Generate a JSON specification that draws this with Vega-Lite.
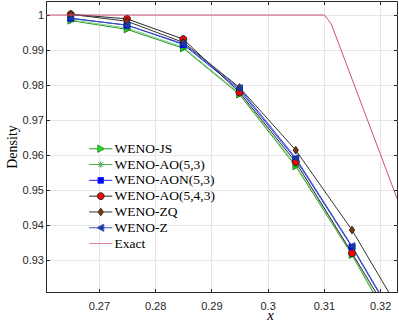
{
  "$schema": "https://vega.github.io/schema/vega-lite/v6.json",
  "width": 351,
  "height": 291,
  "autosize": {"type": "none"},
  "padding": {"left": 46, "top": 1, "right": 2, "bottom": 32},
  "background": "white",
  "config": {
    "view": {"stroke": "#262626", "strokeWidth": 1},
    "axis": {
      "labelFont": "Liberation Sans",
      "labelFontSize": 11,
      "labelColor": "#262626",
      "domainColor": "#262626",
      "tickColor": "#262626",
      "gridColor": "#e6e6e6",
      "gridWidth": 1,
      "tickSize": -3.5,
      "titleFont": "Liberation Serif",
      "titleFontWeight": "normal",
      "titleColor": "#000000"
    },
    "legend": {
      "labelFont": "Liberation Serif",
      "labelFontSize": 13.5,
      "labelColor": "#000000",
      "symbolStrokeWidth": 1,
      "symbolSize": 64,
      "padding": 0,
      "rowPadding": 0.8,
      "labelOffset": 7
    }
  },
  "data": {
    "values": [
      {"series": "WENO-JS", "x": 0.265, "rho": 0.9984},
      {"series": "WENO-JS", "x": 0.275, "rho": 0.9959},
      {"series": "WENO-JS", "x": 0.285, "rho": 0.9905},
      {"series": "WENO-JS", "x": 0.295, "rho": 0.9773},
      {"series": "WENO-JS", "x": 0.305, "rho": 0.9568},
      {"series": "WENO-JS", "x": 0.315, "rho": 0.9315},
      {"series": "WENO-JS", "x": 0.325, "rho": 0.9029},
      {"series": "WENO-AO(5,3)", "x": 0.265, "rho": 0.9986},
      {"series": "WENO-AO(5,3)", "x": 0.275, "rho": 0.9963},
      {"series": "WENO-AO(5,3)", "x": 0.285, "rho": 0.9908},
      {"series": "WENO-AO(5,3)", "x": 0.295, "rho": 0.9776},
      {"series": "WENO-AO(5,3)", "x": 0.305, "rho": 0.9572},
      {"series": "WENO-AO(5,3)", "x": 0.315, "rho": 0.9318},
      {"series": "WENO-AO(5,3)", "x": 0.325, "rho": 0.9035},
      {"series": "WENO-AON(5,3)", "x": 0.265, "rho": 0.9991},
      {"series": "WENO-AON(5,3)", "x": 0.275, "rho": 0.9971},
      {"series": "WENO-AON(5,3)", "x": 0.285, "rho": 0.9916},
      {"series": "WENO-AON(5,3)", "x": 0.295, "rho": 0.9786},
      {"series": "WENO-AON(5,3)", "x": 0.305, "rho": 0.9588},
      {"series": "WENO-AON(5,3)", "x": 0.315, "rho": 0.9337},
      {"series": "WENO-AON(5,3)", "x": 0.325, "rho": 0.9065},
      {"series": "WENO-AO(5,4,3)", "x": 0.265, "rho": 1.0002},
      {"series": "WENO-AO(5,4,3)", "x": 0.275, "rho": 0.9989},
      {"series": "WENO-AO(5,4,3)", "x": 0.285, "rho": 0.9931},
      {"series": "WENO-AO(5,4,3)", "x": 0.295, "rho": 0.9779},
      {"series": "WENO-AO(5,4,3)", "x": 0.305, "rho": 0.958},
      {"series": "WENO-AO(5,4,3)", "x": 0.315, "rho": 0.932},
      {"series": "WENO-AO(5,4,3)", "x": 0.325, "rho": 0.9056},
      {"series": "WENO-ZQ", "x": 0.265, "rho": 1.0002},
      {"series": "WENO-ZQ", "x": 0.275, "rho": 0.9982},
      {"series": "WENO-ZQ", "x": 0.285, "rho": 0.9922},
      {"series": "WENO-ZQ", "x": 0.295, "rho": 0.9793},
      {"series": "WENO-ZQ", "x": 0.305, "rho": 0.9614},
      {"series": "WENO-ZQ", "x": 0.315, "rho": 0.9386},
      {"series": "WENO-ZQ", "x": 0.325, "rho": 0.9114},
      {"series": "WENO-Z", "x": 0.265, "rho": 0.999},
      {"series": "WENO-Z", "x": 0.275, "rho": 0.9971},
      {"series": "WENO-Z", "x": 0.285, "rho": 0.9918},
      {"series": "WENO-Z", "x": 0.295, "rho": 0.9791},
      {"series": "WENO-Z", "x": 0.305, "rho": 0.9592},
      {"series": "WENO-Z", "x": 0.315, "rho": 0.934},
      {"series": "WENO-Z", "x": 0.325, "rho": 0.9068},
      {"series": "Exact", "x": 0.26, "rho": 1.0},
      {"series": "Exact", "x": 0.3101, "rho": 1.0},
      {"series": "Exact", "x": 0.3113, "rho": 0.9975},
      {"series": "Exact", "x": 0.3235, "rho": 0.9455}
    ]
  },
  "resolve": {"scale": {"shape": "independent", "stroke": "independent", "fill": "independent"}},
  "layer": [
    {
      "transform": [{"filter": "datum.series != 'Exact'"}],
      "mark": {"type": "line", "strokeWidth": 1, "clip": true},
      "encoding": {
        "x": {"field": "x", "type": "quantitative",
          "scale": {"domain": [0.2606, 0.323], "nice": false, "zero": false},
          "axis": {"orient": "bottom", "values": [0.27, 0.28, 0.29, 0.3, 0.31, 0.32], "format": "~g", "grid": true, "labelPadding": 10, "labelBaseline": "line-top", "labelLineHeight": 16, "title": "x", "titleFontStyle": "italic", "titleFontSize": 15, "titleX": 224, "titleY": 27, "titleBaseline": "alphabetic"}},
        "y": {"field": "rho", "type": "quantitative",
          "scale": {"domain": [0.9209, 1.004], "nice": false, "zero": false},
          "axis": {"orient": "left", "values": [0.93, 0.94, 0.95, 0.96, 0.97, 0.98, 0.99, 1], "format": "~g", "grid": true, "labelPadding": 6, "title": "Density", "titleFontSize": 14, "titlePadding": 3}},
        "stroke": {"field": "series", "type": "nominal", "legend": null,
          "scale": {"domain": ["WENO-JS", "WENO-AO(5,3)", "WENO-AON(5,3)", "WENO-AO(5,4,3)", "WENO-ZQ", "WENO-Z"],
            "range": ["#1f9a1f", "#80d080", "#2020ff", "#262626", "#333333", "#3a56b0"]}},
        "detail": {"field": "series"}
      }
    },
    {
      "transform": [{"filter": "datum.series != 'Exact' && datum.x < 0.32"}],
      "mark": {"type": "point", "size": 49, "opacity": 1, "strokeWidth": 1, "clip": true},
      "encoding": {
        "x": {"field": "x", "type": "quantitative", "axis": null},
        "y": {"field": "rho", "type": "quantitative", "axis": null},
        "shape": {"field": "series", "type": "nominal", "legend": null,
          "scale": {"domain": ["WENO-JS", "WENO-AO(5,3)", "WENO-AON(5,3)", "WENO-AO(5,4,3)", "WENO-ZQ", "WENO-Z"],
            "range": [
              "M-0.8,-1L1,0L-0.8,1Z",
              "M-1,0H1M0,-1V1M-0.7,-0.7L0.7,0.7M-0.7,0.7L0.7,-0.7",
              "M-0.85,-0.85H0.85V0.85H-0.85Z",
              "M-1,0A1,1,0,1,1,1,0A1,1,0,1,1,-1,0Z",
              "M0,-1.1L0.75,0L0,1.1L-0.75,0Z",
              "M0.8,-1L-1,0L0.8,1Z"
            ]}},
        "fill": {"field": "series", "type": "nominal", "legend": null,
          "scale": {"domain": ["WENO-JS", "WENO-AO(5,3)", "WENO-AON(5,3)", "WENO-AO(5,4,3)", "WENO-ZQ", "WENO-Z"],
            "range": ["#22dd22", "transparent", "#0000ff", "#ff0000", "#8b3300", "#1a3a9a"]}},
        "stroke": {"field": "series", "type": "nominal", "legend": null,
          "scale": {"domain": ["WENO-JS", "WENO-AO(5,3)", "WENO-AON(5,3)", "WENO-AO(5,4,3)", "WENO-ZQ", "WENO-Z"],
            "range": ["#1a8a1a", "#2a9a2a", "#0000ff", "#262626", "#262626", "#1a3a9a"]}}
      }
    },
    {
      "transform": [{"filter": "false"}],
      "mark": {"type": "point", "opacity": 1, "strokeWidth": 1},
      "encoding": {
        "shape": {"field": "series", "type": "nominal",
          "legend": {"orient": "none", "legendX": 48, "legendY": 141, "title": null},
          "scale": {"domain": ["WENO-JS", "WENO-AO(5,3)", "WENO-AON(5,3)", "WENO-AO(5,4,3)", "WENO-ZQ", "WENO-Z", "Exact"],
            "range": [
              "M-2.9,0H-0.75M0.95,0H2.9M-0.75,-0.9L0.95,0L-0.75,0.9Z",
              "M-2.9,0H2.9M-0.8,0H0.8M0,-0.8V0.8M-0.6,-0.6L0.6,0.6M-0.6,0.6L0.6,-0.6",
              "M-2.9,0H-0.7M0.7,0H2.9M-0.7,-0.7H0.7V0.7H-0.7Z",
              "M-2.9,0H-0.85M0.85,0H2.9M-0.85,0A0.85,0.85,0,1,1,0.85,0A0.85,0.85,0,1,1,-0.85,0Z",
              "M-2.9,0H-0.7M0.7,0H2.9M0,-0.95L0.7,0L0,0.95L-0.7,0Z",
              "M-2.9,0H-0.95M0.75,0H2.9M0.75,-0.9L-0.95,0L0.75,0.9Z",
              "M-2.9,0H2.9"
            ]}},
        "fill": {"field": "series", "type": "nominal",
          "legend": {"orient": "none", "legendX": 48, "legendY": 141, "title": null},
          "scale": {"domain": ["WENO-JS", "WENO-AO(5,3)", "WENO-AON(5,3)", "WENO-AO(5,4,3)", "WENO-ZQ", "WENO-Z", "Exact"],
            "range": ["#22dd22", "transparent", "#0000ff", "#ff0000", "#8b3300", "#1a3a9a", "transparent"]}},
        "stroke": {"field": "series", "type": "nominal",
          "legend": {"orient": "none", "legendX": 48, "legendY": 141, "title": null},
          "scale": {"domain": ["WENO-JS", "WENO-AO(5,3)", "WENO-AON(5,3)", "WENO-AO(5,4,3)", "WENO-ZQ", "WENO-Z", "Exact"],
            "range": ["#1f9a1f", "#4caf4c", "#2020ff", "#262626", "#333333", "#3a56b0", "#d88098"]}}
      }
    },
    {
      "transform": [{"filter": "datum.series == 'Exact'"}],
      "mark": {"type": "line", "strokeWidth": 1, "stroke": "#cc5070", "clip": true},
      "encoding": {
        "x": {"field": "x", "type": "quantitative",
          "axis": {"orient": "top", "values": [0.27, 0.28, 0.29, 0.3, 0.31, 0.32], "labels": false, "grid": false, "domain": false, "title": null}},
        "y": {"field": "rho", "type": "quantitative",
          "axis": {"orient": "right", "values": [0.93, 0.94, 0.95, 0.96, 0.97, 0.98, 0.99, 1], "labels": false, "grid": false, "domain": false, "title": null}}
      }
    }
  ]
}
